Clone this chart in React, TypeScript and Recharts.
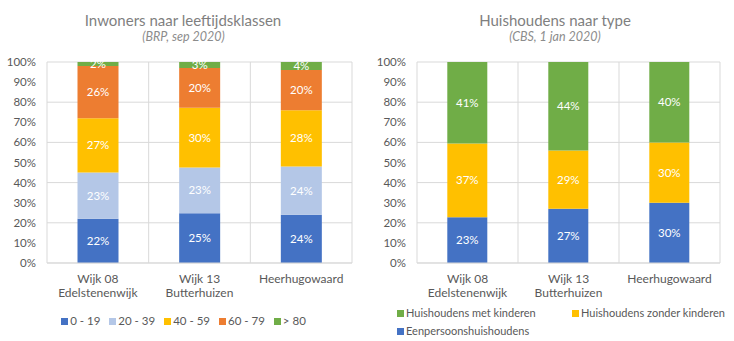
import React from 'react';
import { BarChart, Bar, XAxis, YAxis, CartesianGrid, LabelList } from 'recharts';

const categories = ['Wijk 08\nEdelstenenwijk', 'Wijk 13\nButterhuizen', 'Heerhugowaard'];

// Left chart: inwoners naar leeftijdsklassen
const ageGroups = ['0 - 19', '20 - 39', '40 - 59', '60 - 79', '> 80'];
const age0_19 = [22, 25, 24];
const age20_39 = [23, 23, 24];
const age40_59 = [27, 30, 28];
const age60_79 = [26, 20, 20];
const age80plus = [2, 3, 4];
const ageColors = ['#4472C4', '#B4C7E7', '#FFC000', '#ED7D31', '#70AD47'];

// Right chart: huishoudens naar type
const householdTypes = ['Eenpersoonshuishoudens', 'Huishoudens zonder kinderen', 'Huishoudens met kinderen'];
const eenpersoons = [23, 27, 30];
const zonderKinderen = [37, 29, 30];
const metKinderen = [41, 44, 40];
const householdColors = ['#4472C4', '#FFC000', '#70AD47'];

const yTicks = [0, 0.1, 0.2, 0.3, 0.4, 0.5, 0.6, 0.7, 0.8, 0.9, 1];

const ageSeries = [age0_19, age20_39, age40_59, age60_79, age80plus];
const ageData = categories.map((c, i) => {
  const row: any = { name: c };
  ageSeries.forEach((s, k) => { row['s' + k] = s[i]; });
  return row;
});
const hhSeries = [eenpersoons, zonderKinderen, metKinderen];
const hhData = categories.map((c, i) => {
  const row: any = { name: c };
  hhSeries.forEach((s, k) => { row['s' + k] = s[i]; });
  return row;
});

const FONT = 'Lato, "Open Sans", sans-serif';
const TEXT = '#595959';
const GRID = '#D9D9D9';

const CatTick = (props: any) => {
  const { x, y, payload } = props;
  const lines = String(payload.value).split('\n');
  return (
    <text x={x} y={y} textAnchor="middle" fill={TEXT} fontSize={12} fontFamily={FONT}>
      {lines.map((l, i) => (
        <tspan key={i} x={x} dy={i === 0 ? 20 : 14.3}>{l}</tspan>
      ))}
    </text>
  );
};

const vertGen = ({ offset }: any) => {
  const n = categories.length;
  const pts: number[] = [];
  for (let i = 0; i <= n; i++) pts.push(offset.left + (offset.width * i) / n);
  return pts;
};

const pct = (v: number) => `${Math.round(v * 100)}%`;

function StackChart({ data, names, colors, yWidth, right }: any) {
  return (
    <BarChart
      width={367}
      height={341}
      data={data}
      stackOffset="expand"
      barCategoryGap="30%"
      margin={{ top: 62, right, bottom: 48, left: 0 }}
      style={{ fontFamily: FONT }}
    >
      <CartesianGrid stroke={GRID} strokeWidth={1} verticalCoordinatesGenerator={vertGen} />
      <XAxis
        dataKey="name"
        tick={<CatTick />}
        tickLine={false}
        axisLine={{ stroke: GRID }}
        tickSize={0}
        tickMargin={0}
        height={30}
        interval={0}
      />
      <YAxis
        type="number"
        domain={[0, 1]}
        ticks={yTicks}
        tickFormatter={pct}
        width={yWidth}
        tickLine={false}
        axisLine={false}
        tickSize={0}
        tickMargin={11}
        tick={{ fill: TEXT, fontSize: 11.5, fontFamily: FONT }}
      />
      {names.map((n: string, k: number) => (
        <Bar key={n} dataKey={'s' + k} name={n} stackId="a" fill={colors[k]} isAnimationActive={false}>
          <LabelList
            dataKey={'s' + k}
            position="center"
            fill="#FFFFFF"
            fontSize={11.5}
            fontFamily={FONT}
            formatter={(v: any) => `${v}%`}
          />
        </Bar>
      ))}
    </BarChart>
  );
}

const Marker = ({ color }: { color: string }) => (
  <span style={{ display: 'inline-block', width: 7, height: 7, background: color, marginRight: 2, flex: 'none' }} />
);

export default function App() {
  return (
    <div style={{ position: 'absolute', left: 0, top: 0, width: 734, height: 341, background: '#fff', fontFamily: FONT, overflow: 'hidden' }}>
      <div style={{ position: 'absolute', left: 0, top: 0 }}>
        <StackChart data={ageData} names={ageGroups} colors={ageColors} yWidth={47} right={15} />
      </div>
      <div style={{ position: 'absolute', left: 367, top: 0 }}>
        <StackChart data={hhData} names={householdTypes} colors={householdColors} yWidth={50} right={14} />
      </div>
      <svg width={734} height={60} style={{ position: 'absolute', left: 0, top: 0, pointerEvents: 'none' }}>
        <text x={183} y={25.5} textAnchor="middle" fill="#7F7F7F" fontSize={15} fontFamily={FONT}>Inwoners naar leeftijdsklassen</text>
        <text x={183.5} y={40.5} textAnchor="middle" fill="#8C8C8C" fontSize={12.5} fontStyle="italic" fontFamily={FONT}>(BRP, sep 2020)</text>
        <text x={555} y={25.5} textAnchor="middle" fill="#7F7F7F" fontSize={15} fontFamily={FONT}>Huishoudens naar type</text>
        <text x={555} y={40.5} textAnchor="middle" fill="#8C8C8C" fontSize={12.5} fontStyle="italic" fontFamily={FONT}>(CBS, 1 jan 2020)</text>
      </svg>
      <div style={{ position: 'absolute', left: 0, top: 313, width: 367, display: 'flex', justifyContent: 'center', fontSize: 11.5, color: TEXT, lineHeight: '16px', whiteSpace: 'nowrap' }}>
        {ageGroups.map((g, k) => (
          <span key={g} style={{ display: 'inline-flex', alignItems: 'center', marginLeft: k === 0 ? 0 : 9 }}>
            <Marker color={ageColors[k]} />{g}
          </span>
        ))}
      </div>
      <div style={{ position: 'absolute', left: 397, top: 305, display: 'grid', gridTemplateColumns: '175px 160px', rowGap: 2, fontSize: 11, color: TEXT, lineHeight: '16px', whiteSpace: 'nowrap' }}>
        {[2, 1, 0].map((k) => (
          <span key={k} style={{ display: 'inline-flex', alignItems: 'center' }}>
            <Marker color={householdColors[k]} />{householdTypes[k]}
          </span>
        ))}
      </div>
    </div>
  );
}
